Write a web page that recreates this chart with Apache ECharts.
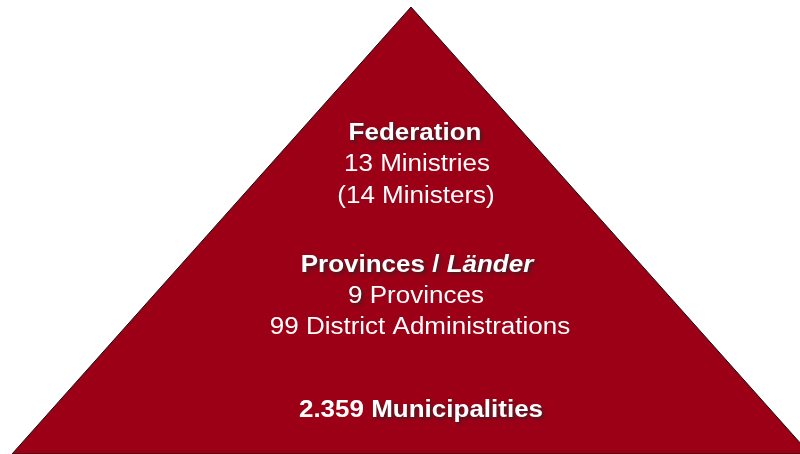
<!DOCTYPE html>
<html>
<head>
<meta charset="utf-8">
<style>
html,body{margin:0;padding:0;background:#fff;}
#chart{width:800px;height:454px;}
</style>
<script src="https://cdn.jsdelivr.net/npm/echarts@6/dist/echarts.min.js"></script>
</head>
<body>
<div id="chart"></div>
<script>
// Data
var pyramidShape = [{ name: 'Austria', value: 1 }];
var levelNames = ['Federation', 'Provinces', 'Länder', 'Municipalities'];
var ministries = 13;
var ministers = 14;
var provinces = 9;
var districts = 99;
var municipalities = '2.359';

var chart = echarts.init(document.getElementById('chart'));
var FONT = '"Liberation Sans", Arial, sans-serif';
var FS = 23;
var SX = 1.13;
var shadow = { textShadowColor: 'rgba(40,40,40,0.75)', textShadowBlur: 3, textShadowOffsetX: 2, textShadowOffsetY: 2 };

function seg(bold, italic, sh) {
  var s = { fill: '#fff', fontFamily: FONT, fontSize: FS, fontWeight: bold ? 'bold' : 'normal', fontStyle: italic ? 'italic' : 'normal' };
  if (sh) { for (var k in shadow) s[k] = shadow[k]; }
  return s;
}
function line(x, y, text) {
  return {
    type: 'text', x: x, y: y, scaleX: SX, silent: true, z: 10,
    style: {
      text: text, textAlign: 'center', textVerticalAlign: 'middle',
      fill: '#fff', fontFamily: FONT, fontSize: FS,
      rich: {
        b: seg(true, false, true), bi: seg(true, true, true),
        bn: seg(true, false, false), ns: seg(false, false, true),
        n: seg(false, false, false)
      }
    }
  };
}

var option = {
  animation: false,
  backgroundColor: '#fff',
  series: [{
    type: 'funnel',
    sort: 'ascending',
    left: 12, top: 7, width: 798, height: 447,
    min: 0, max: 1,
    minSize: '0%', maxSize: '100%',
    gap: 0,
    silent: true,
    label: { show: false },
    labelLine: { show: false },
    itemStyle: { color: '#9b0016', borderColor: '#111', borderWidth: 1 },
    emphasis: { disabled: true },
    data: pyramidShape
  }],
  graphic: [
    line(415, 134, '{b|' + levelNames[0] + '}'),
    line(417, 165, '{n|' + ministries + ' Ministries}'),
    line(416, 197, '{n|(' + ministers + ' Ministers)}'),
    line(417, 266, '{b|' + levelNames[1] + ' / }{bi|' + levelNames[2] + '}'),
    line(416, 297, '{ns|' + provinces + '}{n| Provinces}'),
    line(420, 328, '{n|' + districts + ' District Administrations}'),
    line(421, 411, '{bn|' + municipalities + ' }{b|' + levelNames[3] + '}')
  ]
};
chart.setOption(option);
</script>
</body>
</html>
